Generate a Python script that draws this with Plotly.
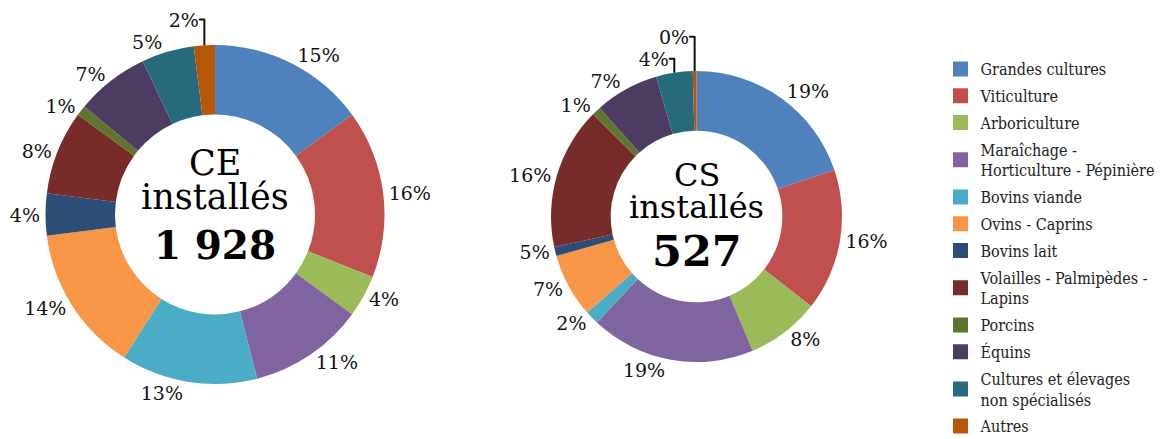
import plotly.graph_objects as go

categories = [
    "Grandes cultures",
    "Viticulture",
    "Arboriculture",
    "Maraîchage -<br>Horticulture - Pépinière",
    "Bovins viande",
    "Ovins - Caprins",
    "Bovins lait",
    "Volailles - Palmipèdes -<br>Lapins",
    "Porcins",
    "Équins",
    "Cultures et élevages<br>non spécialisés",
    "Autres",
]
colors = ["#4F81BD", "#C0504D", "#9BBB59", "#8064A2", "#4BACC6", "#F79646",
          "#2C4D75", "#772C2A", "#5F7530", "#4D3B62", "#276A7C", "#B65708"]

ce_values = [15, 16, 4, 11, 13, 14, 4, 8, 1, 7, 5, 2]
ce_labels = ["15%", "16%", "4%", "11%", "13%", "14%", "4%", "8%", "1%", "7%", "5%", "2%"]
ce_title = ["CE", "installés"]
ce_total = "1 928"

cs_values = [19.5, 15.5, 8, 18, 1.5, 7, 1, 15.5, 1, 7, 4, 0.4]
cs_labels = ["19%", "16%", "8%", "19%", "2%", "7%", "5%", "16%", "1%", "7%", "4%", "0%"]
cs_title = ["CS", "installés"]
cs_total = "527"

FONT = "DejaVu Serif"
LEGFONT = "DejaVu Serif Condensed, DejaVu Serif"
W, H = 1165, 439


def px_dom(x0, x1, y0, y1):
    return dict(x=[x0 / W, x1 / W], y=[1 - y1 / H, 1 - y0 / H])


fig = go.Figure()
fig.add_trace(go.Pie(
    labels=categories, values=ce_values, text=ce_labels, textinfo="text",
    textposition="outside", sort=False, direction="clockwise", rotation=0,
    hole=0.59, marker=dict(colors=colors, line=dict(width=0)),
    textfont=dict(family=FONT, size=19, color="#111111"),
    domain=px_dom(37.5, 376.5, 37, 376),
    showlegend=False, hoverinfo="label+text",
))
fig.add_trace(go.Pie(
    labels=categories, values=cs_values, text=cs_labels, textinfo="text",
    textposition="outside", sort=False, direction="clockwise", rotation=0,
    hole=0.59, marker=dict(colors=colors, line=dict(width=0)),
    textfont=dict(family=FONT, size=19, color="#111111"),
    domain=px_dom(543, 834, 63, 354),
    showlegend=False, hoverinfo="label+text",
))

# legend entries (one group per category so that spacing matches)
for i, (cat, col) in enumerate(zip(categories, colors)):
    fig.add_trace(go.Scatter(
        x=[None], y=[None], mode="markers", name=cat,
        marker=dict(symbol="square", size=15, color=col),
        legendgroup="g%02d" % i, showlegend=True, hoverinfo="skip",
    ))

anns = [
    dict(x=207, y=155, text=ce_title[0], font=dict(family=FONT, size=35, color="#000")),
    dict(x=207, y=189, text=ce_title[1], font=dict(family=FONT, size=35, color="#000")),
    dict(x=207, y=237, text="<b>" + ce_total + "</b>", font=dict(family=FONT, size=39, color="#000")),
    dict(x=688.5, y=167, text=cs_title[0], font=dict(family=FONT, size=32, color="#000")),
    dict(x=688.5, y=199, text=cs_title[1], font=dict(family=FONT, size=32, color="#000")),
    dict(x=688.5, y=243, text="<b>" + cs_total + "</b>", font=dict(family=FONT, size=43, color="#000")),
]
for a in anns:
    fig.add_annotation(xref="paper", yref="paper", showarrow=False, xanchor="center", yanchor="middle",
                       x=a["x"] / W, y=1 - a["y"] / H, text=a["text"], font=a["font"])

fig.update_layout(
    width=W, height=H,
    margin=dict(l=0, r=0, t=0, b=0, autoexpand=False),
    paper_bgcolor="white", plot_bgcolor="white",
    xaxis=dict(visible=False), yaxis=dict(visible=False),
    legend=dict(x=932.5 / W, y=1 - 44 / H, xanchor="left", yanchor="top",
                font=dict(family=LEGFONT, size=16, color="#222"),
                itemwidth=30, tracegroupgap=3, traceorder="grouped",
                itemsizing="trace", bgcolor="rgba(0,0,0,0)"),
)
fig.write_html("out.html")
